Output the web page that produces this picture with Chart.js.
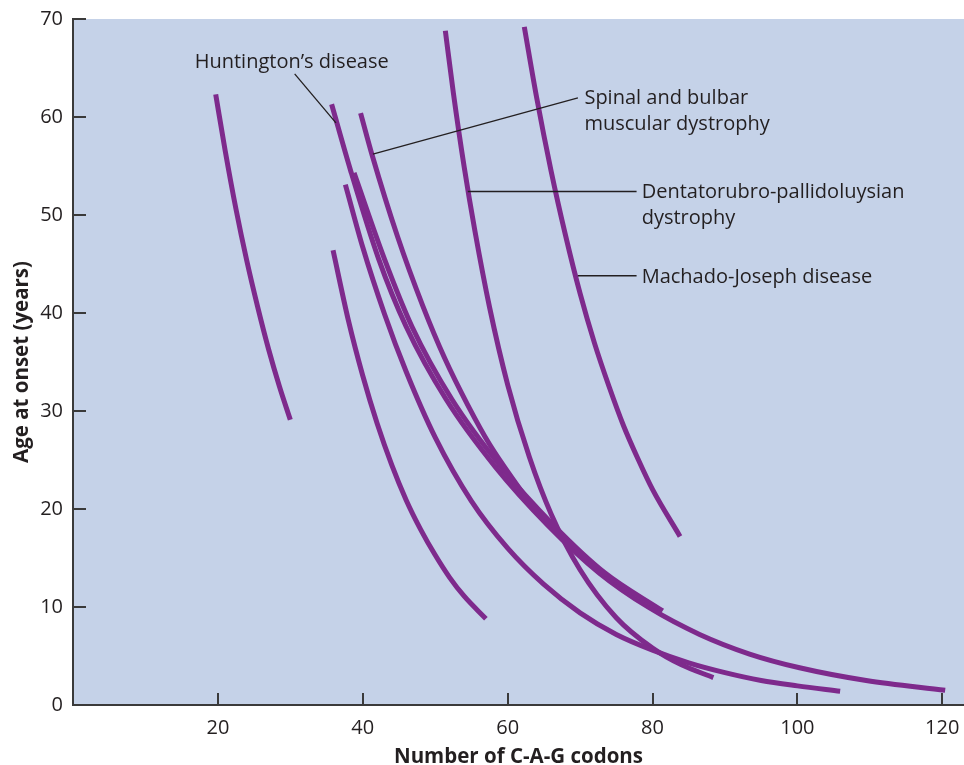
<!DOCTYPE html>
<html lang="en">
<head>
<meta charset="UTF-8">
<title>Age at onset and C-A-G repeat length</title>
<script src="https://cdn.jsdelivr.net/npm/chart.js"></script>
<style>
  body { margin: 0; background: #fff; }
  #wrap { width: 964px; height: 765px; }
</style>
</head>
<body>
<div id="wrap"><canvas id="onsetChart" width="964" height="765"></canvas></div>
<script>
// number of C-A-G codons (x) and age at onset in years (y) along each curve
var leftCurveX = [19.7, 21.0, 22.5, 24.0, 25.5, 27.0, 28.5, 30.0];
var leftCurveY = [62.3, 56.6, 50.6, 45.3, 40.6, 36.3, 32.5, 29.1];

var huntingtonX = [35.7, 38.3, 42.2, 46.0, 51.5, 58.3, 65.6, 72.6, 79.6, 86.5, 93.4, 100.3, 109.5, 120.4];
var huntingtonY = [61.3, 54.6, 45.5, 38.6, 31.2, 24.3, 18.3, 13.5, 9.9, 7.2, 5.2, 3.8, 2.5, 1.5];

var pairedCurveX = [38.8, 43.0, 46.8, 52.3, 59.1, 66.4, 73.4, 81.4];
var pairedCurveY = [54.3, 45.5, 38.6, 31.2, 24.3, 18.3, 13.5, 9.6];

var sbmaX = [39.7, 41.3, 44.8, 48.3, 51.3, 54.5, 57.5, 62.1];
var sbmaY = [60.4, 56.1, 47.8, 40.7, 35.4, 30.6, 26.6, 21.6];

var longCurveX = [37.6, 40, 43, 46, 50, 55, 60, 65, 70, 75, 80, 85, 90, 95, 100, 105.9];
var longCurveY = [53.1, 46.7, 39.9, 34.0, 27.3, 20.8, 16.0, 12.3, 9.4, 7.2, 5.6, 4.3, 3.3, 2.5, 1.95, 1.4];

var shortCurveX = [35.9, 38, 40, 42, 44, 46, 48, 50, 52, 54, 57];
var shortCurveY = [46.4, 39.3, 33.6, 28.7, 24.5, 20.9, 17.9, 15.3, 13.0, 11.1, 8.8];

var drplaX = [51.4, 52.5, 54.0, 55.5, 57.5, 60, 63, 66, 70, 75, 80, 84, 88.4];
var drplaY = [68.8, 62.5, 54.9, 48.3, 40.6, 32.7, 25.3, 19.5, 13.8, 8.9, 5.8, 4.1, 2.8];

var mjdX = [62.3, 64, 66, 68, 70, 72, 74, 76, 78, 80, 83.8];
var mjdY = [69.2, 62.0, 54.5, 47.9, 42.0, 36.9, 32.5, 28.5, 25.1, 22.0, 17.2];

var xTicks = [20, 40, 60, 80, 100, 120];
var yTicks = [0, 10, 20, 30, 40, 50, 60, 70];

// curve labels: text lines, first baseline and leader line, all in data units
var labels = [
  { lines: ['Huntington\u2019s disease'], x: 16.8, y: 65.0, from: [30.6, 64.4], to: [36.3, 59.4] },
  { lines: ['Spinal and bulbar', 'muscular dystrophy'], x: 70.6, y: 61.3, from: [69.7, 61.95], to: [41.4, 56.2] },
  { lines: ['Dentatorubro-pallidoluysian', 'dystrophy'], x: 78.5, y: 51.75, from: [77.8, 52.4], to: [54.5, 52.4] },
  { lines: ['Machado-Joseph disease'], x: 78.5, y: 43.1, from: [77.8, 43.8], to: [69.7, 43.8] }
];

var purple = '#7e2a8c';
var plotFill = '#c5d2e8';
var ink = '#231f20';
var axisInk = '#3a3a3a';
var fontFamily = '"Open Sans", "Noto Sans", sans-serif';

function points(xs, ys) {
  return xs.map(function (x, i) { return { x: x, y: ys[i] }; });
}

var curves = [
  points(leftCurveX, leftCurveY),
  points(shortCurveX, shortCurveY),
  points(longCurveX, longCurveY),
  points(pairedCurveX, pairedCurveY),
  points(huntingtonX, huntingtonY),
  points(sbmaX, sbmaY),
  points(drplaX, drplaY),
  points(mjdX, mjdY)
];

var datasets = curves.map(function (pts) {
  return {
    data: pts,
    showLine: true,
    borderColor: purple,
    borderWidth: 5,
    borderCapStyle: 'butt',
    pointRadius: 0,
    pointHoverRadius: 0,
    cubicInterpolationMode: 'monotone',
    fill: false
  };
});

var decorations = {
  id: 'decorations',
  beforeDraw: function (chart) {
    var a = chart.chartArea, ctx = chart.ctx;
    ctx.save();
    ctx.fillStyle = plotFill;
    ctx.fillRect(a.left, a.top, a.right - a.left, a.bottom - a.top);
    ctx.restore();
  },
  afterDatasetsDraw: function (chart) {
    var xs = chart.scales.x, ys = chart.scales.y, ctx = chart.ctx, a = chart.chartArea;
    ctx.save();
    // inward tick marks
    ctx.strokeStyle = axisInk;
    ctx.lineWidth = 2;
    ctx.beginPath();
    xTicks.forEach(function (v) {
      var px = Math.round(xs.getPixelForValue(v));
      ctx.moveTo(px, a.bottom);
      ctx.lineTo(px, a.bottom - 12);
    });
    yTicks.forEach(function (v) {
      if (v === 0) return;
      var py = Math.round(ys.getPixelForValue(v));
      ctx.moveTo(a.left, py);
      ctx.lineTo(a.left + 13, py);
    });
    ctx.stroke();

    // leader lines and labels
    ctx.strokeStyle = ink;
    ctx.lineWidth = 1.3;
    ctx.fillStyle = ink;
    ctx.font = '20px ' + fontFamily;
    ctx.textAlign = 'left';
    ctx.textBaseline = 'alphabetic';
    labels.forEach(function (l) {
      ctx.beginPath();
      ctx.moveTo(xs.getPixelForValue(l.from[0]), ys.getPixelForValue(l.from[1]));
      ctx.lineTo(xs.getPixelForValue(l.to[0]), ys.getPixelForValue(l.to[1]));
      ctx.stroke();
      var tx = xs.getPixelForValue(l.x), ty = ys.getPixelForValue(l.y);
      l.lines.forEach(function (line, i) {
        ctx.fillText(line, tx, ty + i * 26);
      });
    });
    ctx.restore();
  }
};

new Chart(document.getElementById('onsetChart'), {
  type: 'scatter',
  data: { datasets: datasets },
  options: {
    responsive: false,
    animation: false,
    events: [],
    layout: { padding: { top: 19, right: 0, bottom: 0, left: 0 } },
    plugins: { legend: { display: false }, tooltip: { enabled: false } },
    scales: {
      x: {
        type: 'linear',
        min: 0,
        max: 123,
        afterBuildTicks: function (scale) {
          scale.ticks = xTicks.map(function (v) { return { value: v }; });
        },
        afterFit: function (scale) {
          scale.height = 60;
          scale.paddingLeft = 0;
          scale.paddingRight = 0;
        },
        grid: { display: false, drawTicks: false },
        border: { display: true, color: axisInk, width: 2 },
        ticks: { color: ink, padding: 11, font: { family: fontFamily, size: 20 } },
        title: {
          display: true,
          text: 'Number of C-A-G codons',
          color: ink,
          font: { family: fontFamily, size: 20.5, weight: 'bold', lineHeight: 0.8 },
          padding: { top: 0, bottom: 0 }
        }
      },
      y: {
        type: 'linear',
        min: 0,
        max: 70,
        afterBuildTicks: function (scale) {
          scale.ticks = yTicks.map(function (v) { return { value: v }; });
        },
        afterFit: function (scale) {
          scale.width = 73;
          scale.paddingTop = 0;
          scale.paddingBottom = 0;
        },
        grid: { display: false, drawTicks: false },
        border: { display: true, color: axisInk, width: 2 },
        ticks: { color: ink, padding: 10, font: { family: fontFamily, size: 20 } },
        title: {
          display: true,
          text: 'Age at onset (years)',
          color: ink,
          font: { family: fontFamily, size: 20.5, weight: 'bold', lineHeight: 0.8 },
          padding: { top: 14, bottom: 0 }
        }
      }
    }
  },
  plugins: [decorations]
});
</script>
</body>
</html>
